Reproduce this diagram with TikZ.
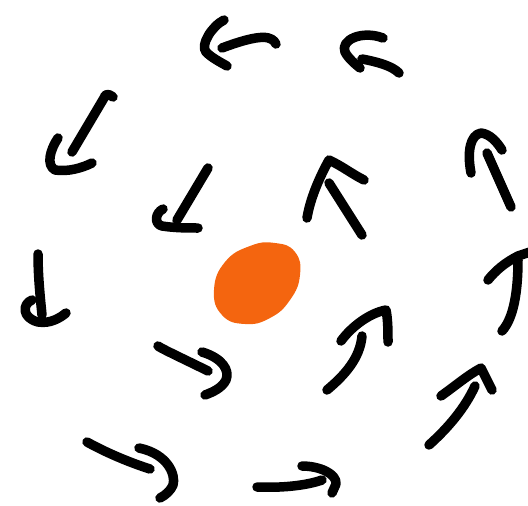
\documentclass[tikz,border=0pt]{standalone}
\definecolor{blob}{HTML}{F4650F}
\tikzset{stroke/.style={line width=9.5pt,line cap=round,line join=round,black}}
\begin{document}
\begin{tikzpicture}[x=1pt,y=-1pt]
\useasboundingbox (0,0) rectangle (528,506);
% orange blob
\fill[blob] plot[smooth cycle,tension=0.8] coordinates{(214,290) (225,262) (250,246) (275,243) (295,252) (300,275) (290,300) (270,318) (245,324) (222,315)};
% arrow 1 top
\draw[stroke] (276,44) .. controls (272,36) and (262,33) .. (222,48);
\draw[stroke] (224,20) .. controls (212,26) and (200,45) .. (206,52) .. controls (212,58) and (220,62) .. (227,66);
% arrow 2 top right
\draw[stroke] (383,38) .. controls (362,30) and (340,40) .. (345,52) .. controls (348,58) and (355,64) .. (360,68);
\draw[stroke] (362,59) .. controls (378,62) and (392,66) .. (399,73);
% arrow 3 right outer
\draw[stroke] (471,173) .. controls (467,152) and (470,135) .. (481,133) .. controls (490,134) and (497,142) .. (502,150);
\draw[stroke] (487,153) -- (511,207);
% arrow 4 inner up-left
\draw[stroke] (307,218) .. controls (310,200) and (318,180) .. (329,160) .. controls (342,166) and (352,174) .. (364,180);
\draw[stroke] (329,183) -- (362,235);
% arrow 5 right edge
\draw[stroke] (488,280) .. controls (496,270) and (506,262) .. (518,256) -- (530,252);
\draw[stroke] (518,260) .. controls (518,290) and (514,318) .. (502,331);
% arrow 6 inner up-right
\draw[stroke] (341,341) .. controls (352,326) and (370,313) .. (386,310) .. controls (388,320) and (388,332) .. (388,342);
\draw[stroke] (362,336) .. controls (360,358) and (345,375) .. (327,390);
% arrow 7 outer lower right
\draw[stroke] (441,396) .. controls (455,386) and (468,375) .. (481,368) .. controls (485,376) and (489,384) .. (492,390);
\draw[stroke] (475,386) .. controls (465,408) and (448,428) .. (429,445);
% arrow 8 bottom
\draw[stroke] (257,487) .. controls (280,488) and (305,486) .. (322,480);
\draw[stroke] (302,466) .. controls (320,466) and (337,474) .. (336,484) -- (332,493);
% arrow 9 bottom left
\draw[stroke] (87,442) .. controls (105,452) and (128,462) .. (150,469);
\draw[stroke] (139,448) .. controls (168,454) and (176,475) .. (173,485) .. controls (171,490) and (166,495) .. (160,498);
% arrow 10 inner lower left
\draw[stroke] (158,346) .. controls (160,348) and (190,362) .. (208,371);
\draw[stroke] (202,352) .. controls (222,358) and (230,370) .. (226,380) .. controls (222,388) and (213,392) .. (205,395);
% arrow 11 left down
\draw[stroke] (38,254) .. controls (38,275) and (40,295) .. (42,315);
\draw[stroke] (32,300) .. controls (22,304) and (22,318) .. (38,322) .. controls (50,324) and (60,318) .. (66,313);
% arrow 12 left outer
\draw[stroke] (113,97) .. controls (108,93) and (105,94) .. (104,98) -- (72,152);
\draw[stroke] (58,138) .. controls (50,150) and (46,165) .. (55,170) .. controls (68,172) and (82,168) .. (92,163);
% arrow 13 inner upper left
\draw[stroke] (208,168) -- (177,220);
\draw[stroke] (163,209) .. controls (155,213) and (154,224) .. (162,226) .. controls (175,228) and (188,228) .. (198,228);
\end{tikzpicture}
\end{document}
